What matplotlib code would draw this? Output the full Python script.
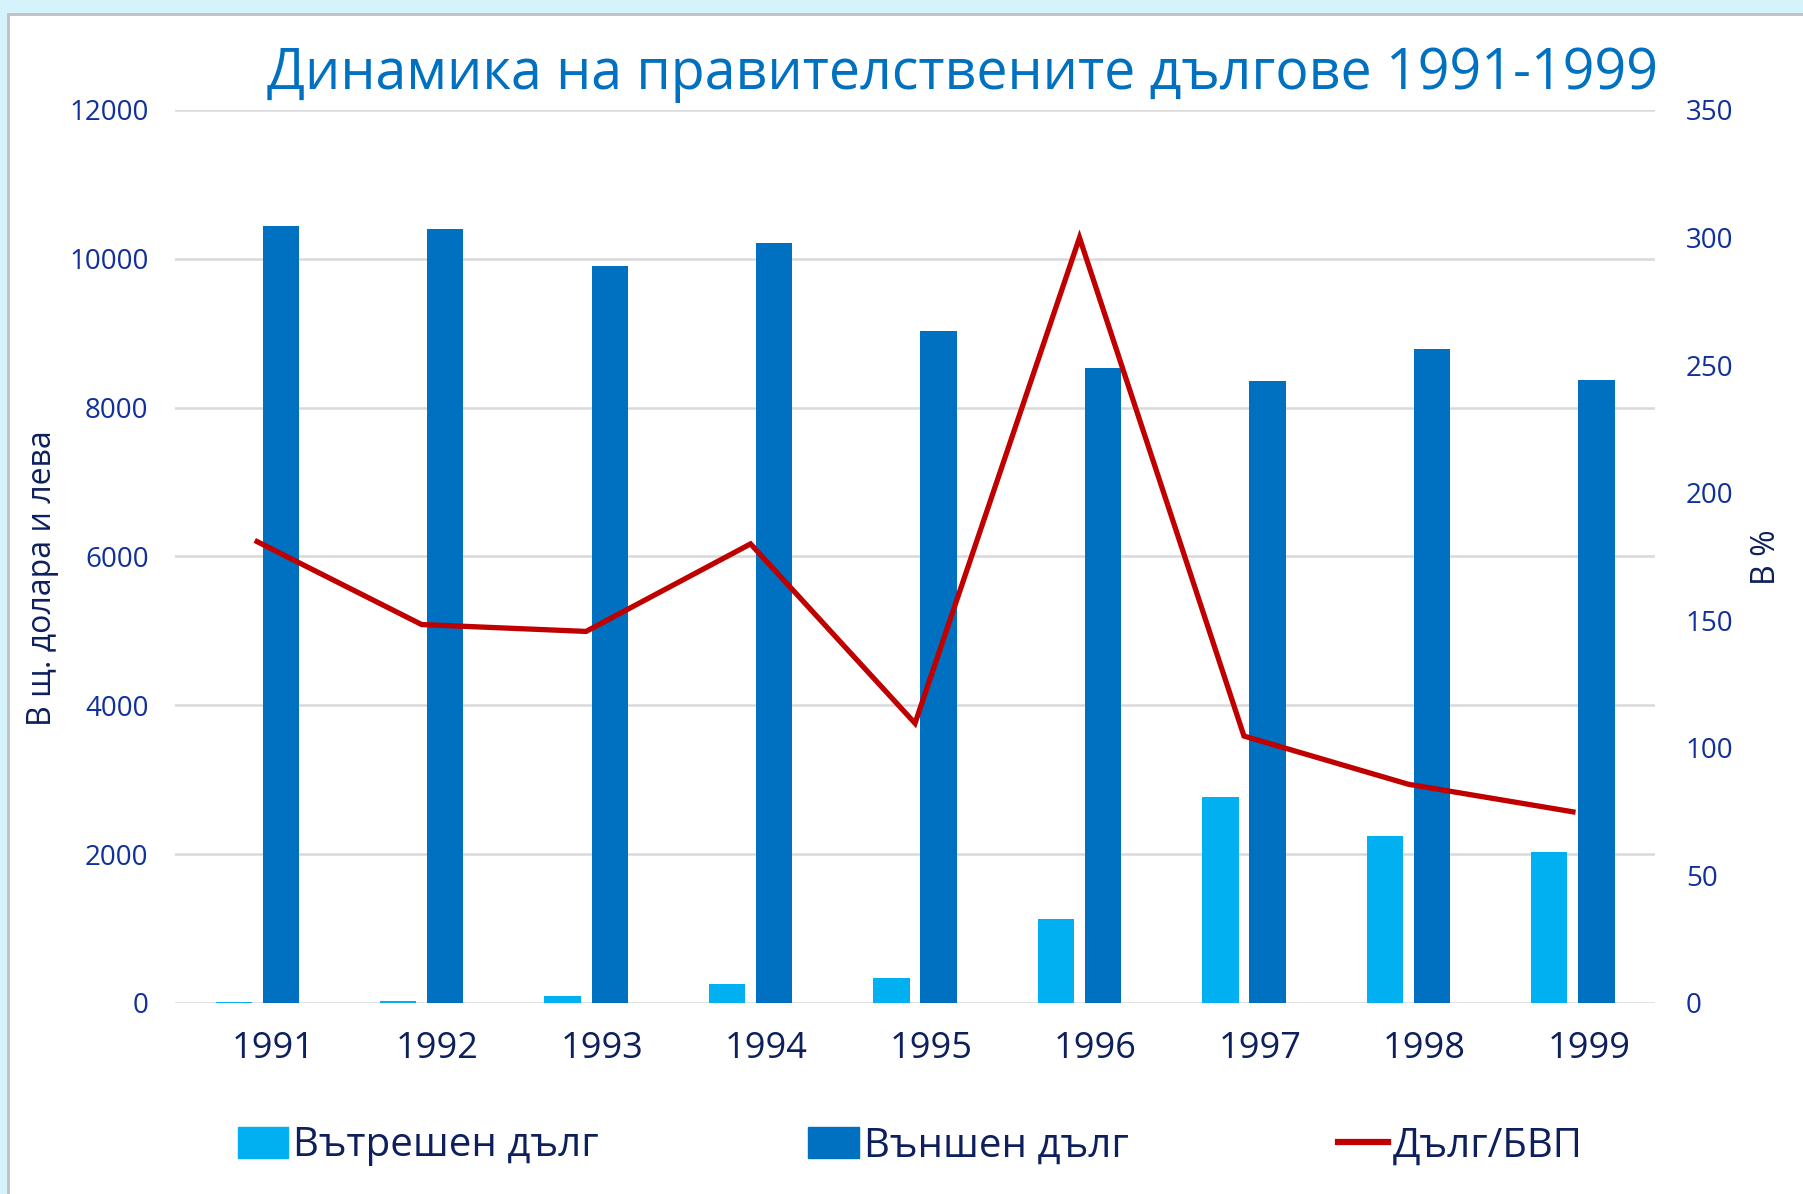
import numpy as np
import matplotlib as mpl
import matplotlib.pyplot as plt
import matplotlib.transforms as mtransforms
from matplotlib.patches import Rectangle
from matplotlib.lines import Line2D

plt.rcParams['font.family'] = ['Open Sans', 'DejaVu Sans']

# данни
years = ["1991", "1992", "1993", "1994", "1995", "1996", "1997", "1998", "1999"]
vatreshen = [15, 30, 95, 250, 330, 1130, 2770, 2245, 2030]       # Вътрешен дълг
vanshen = [10440, 10395, 9900, 10210, 9035, 8525, 8355, 8785, 8370]  # Външен дълг
dalg_bvp = [180.8, 148.3, 145.6, 179.9, 109.6, 299.9, 104.6, 85.7, 74.9]  # Дълг/БВП (%)

c_light = "#00b0f0"
c_dark = "#0070c0"
c_red = "#c00000"
c_tick = "#10309a"
c_text = "#0d1f5c"

fig = plt.figure(figsize=(18.03, 11.94), dpi=100)
fig.patch.set_facecolor("#d6f2fb")
# бял панел с рамка
panel = Rectangle((0.0045, -0.01), 1.1, 0.9985, transform=fig.transFigure,
                  facecolor="white", edgecolor="#c0c0c0", lw=2, zorder=-10)
fig.add_artist(panel)

ax = fig.add_axes([0.097, 0.160, 0.821, 0.748])
ax.set_facecolor("none")
x = np.arange(len(years))
w = 0.22
ax.bar(x - 0.143, vatreshen, w, color=c_light, zorder=2)
ax.bar(x + 0.143, vanshen, w, color=c_dark, zorder=2)
ax.set_xlim(-0.5, len(years) - 0.5)
ax.set_ylim(0, 12000)
ax.set_yticks(np.arange(0, 12001, 2000))
ax.yaxis.grid(True, color="#d9d9d9", lw=1.8, zorder=0)
ax.set_axisbelow(True)
for s in ax.spines.values():
    s.set_visible(False)
ax.set_xticks(x)
ax.set_xticklabels(years)
ax.tick_params(axis="x", length=0, labelsize=26, labelcolor=c_text, pad=20)
ax.tick_params(axis="y", length=0, labelsize=20, labelcolor=c_tick, pad=19)
# подписите по x са леко изместени надясно
offset = mtransforms.ScaledTranslation(0.16, 0, fig.dpi_scale_trans)
for lab in ax.get_xticklabels():
    lab.set_transform(lab.get_transform() + offset)

ax2 = ax.twinx()
ax2.plot(x, dalg_bvp, color=c_red, lw=3.8, solid_joinstyle="miter", zorder=3)
ax2.set_ylim(0, 350)
ax2.set_yticks(np.arange(0, 351, 50))
for s in ax2.spines.values():
    s.set_visible(False)
ax2.tick_params(axis="y", length=0, labelsize=20, labelcolor=c_tick, pad=22)

fig.text(0.0236, 0.516, "В щ. долара и лева", rotation=90, ha="center", va="center",
         fontsize=23, color=c_text)
fig.text(0.980, 0.533, "В %", rotation=90, ha="center", va="center",
         fontsize=23, color=c_text)
fig.text(0.534, 0.938, "Динамика на правителствените дългове 1991-1999", ha="center",
         va="center", fontsize=40, color=c_dark)

handles = [Rectangle((0, 0), 1, 1, color=c_light), Rectangle((0, 0), 1, 1, color=c_dark),
           Line2D([0], [0], color=c_red, lw=4.5)]
labels = ["Вътрешен дълг", "Външен дълг", "Дълг/БВП"]
leg = fig.legend(handles, labels, loc="center", bbox_to_anchor=(0.505, 0.040), ncol=3,
                 frameon=False, fontsize=29, columnspacing=5.2, handlelength=1.25,
                 handleheight=0.8, handletextpad=0.12)
for t in leg.get_texts():
    t.set_color(c_text)

plt.savefig("out.png", dpi=100, facecolor=fig.get_facecolor())
